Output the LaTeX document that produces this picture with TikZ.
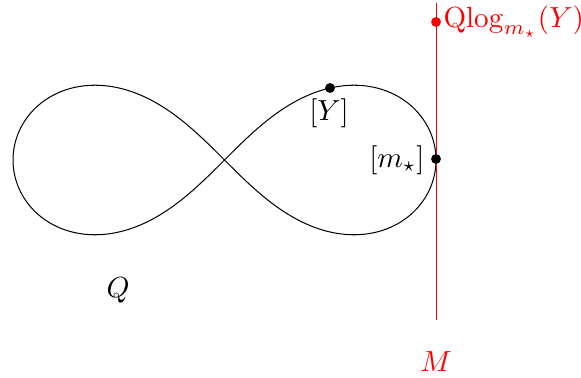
\documentclass[tikz,border=0pt]{standalone}
\begin{document}
\begin{tikzpicture}[x=0.344pt,y=-0.344pt,
  dotb/.style={circle,fill=black,inner sep=0pt,minimum size=3.4pt},
  dotr/.style={circle,fill=red,inner sep=0pt,minimum size=3.4pt},
  lbl/.style={inner sep=0pt}]
\useasboundingbox (0,0) rectangle (581,378);
% lemniscate of Bernoulli
\draw[black,line width=0.35pt,smooth,samples=200,domain=0:360,variable=\t]
  plot ({224.5+211.5*cos(\t)/(1+sin(\t)^2)},{160-211.5*sin(\t)*cos(\t)/(1+sin(\t)^2)}) -- cycle;
\coordinate (top) at (436,3);
\coordinate (bot) at (436,320);
\draw[red,line width=0.3pt] (top) -- (bot);
\node[dotr] (q) at (436,22) {};
\node[lbl,red,anchor=west] (ql) at (443,22) {$\mathrm{Qlog}_{m_\star}(Y)$};
\node[dotb] (y) at (330,88) {};
\node[lbl] (yl) at (329,113) {$[Y]$};
\node[dotb] (m) at (436,159) {};
\node[lbl,anchor=east] (ml) at (425,160) {$[m_\star]$};
\node[lbl] (Q) at (118,290) {$Q$};
\node[lbl,red] (M) at (436,362) {$M$};
\end{tikzpicture}
\end{document}
